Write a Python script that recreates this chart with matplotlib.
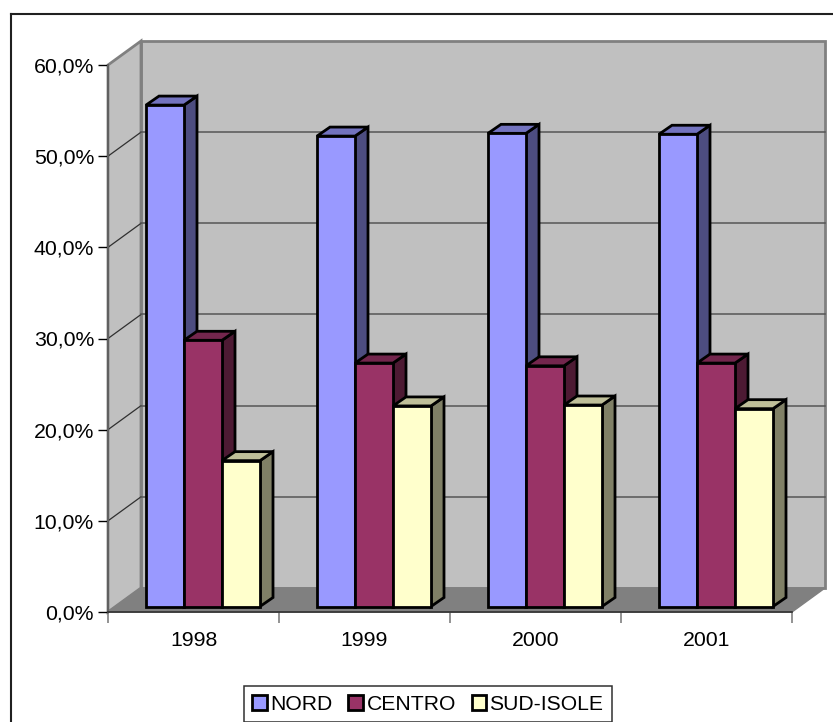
# -*- coding: utf-8 -*-
import matplotlib
matplotlib.use("Agg")
import matplotlib.pyplot as plt
from matplotlib.lines import Line2D
from matplotlib.patches import Polygon, Rectangle
from matplotlib.ticker import FuncFormatter

plt.rcParams['font.family'] = ['Liberation Sans', 'DejaVu Sans']

years = ["1998", "1999", "2000", "2001"]
nord = [55.0, 51.6, 51.9, 51.8]
centro = [29.2, 26.7, 26.4, 26.7]
sud_isole = [16.0, 22.0, 22.1, 21.7]
series_names = ["NORD", "CENTRO", "SUD-ISOLE"]
y_ticks = [0, 10, 20, 30, 40, 50, 60]

front_colors = ["#9999ff", "#993366", "#ffffcc"]
top_colors = ["#7373bf", "#73264d", "#bfbf99"]
side_colors = ["#4d4d80", "#4d1a33", "#808066"]

W, H = 833, 722
fig = plt.figure(figsize=(W / 100, H / 100), dpi=100)

# axes rectangle is the front edge of the 3D box, in pixels
left, right, bottom, top = 108, 792, 612, 65
ax = fig.add_axes([left / W, 1 - bottom / H, (right - left) / W, (bottom - top) / H])
ax.set_xlim(0, 4)
ax.set_ylim(0, 60)
ax.patch.set_visible(False)

xpx = (right - left) / 4
ypx = (bottom - top) / 60


def offset(dx_px, dy_px):
    # oblique depth given in pixels, returned in data units
    return dx_px / xpx, dy_px / ypx


# back wall, side wall and floor
wx, wy = offset(33, 24)
wall_edge = "#808080"
ax.add_patch(Polygon([(wx, wy), (4 + wx, wy), (4 + wx, 60 + wy), (wx, 60 + wy)],
                     fc="#c0c0c0", ec=wall_edge, lw=2, clip_on=False, zorder=1))
ax.add_patch(Polygon([(0, 0), (wx, wy), (wx, 60 + wy), (0, 60)],
                     fc="#c0c0c0", ec=wall_edge, lw=2, clip_on=False, zorder=1))
ax.add_patch(Polygon([(0, 0), (4, 0), (4 + wx, wy), (wx, wy)],
                     fc="#808080", ec=wall_edge, lw=1, clip_on=False, zorder=1))

# gridlines run along the side wall and then across the back wall
for v in y_ticks[1:-1]:
    ax.plot([0, wx], [v, v + wy], color="#303030", lw=0.9, clip_on=False, zorder=2)
    ax.plot([wx, 4 + wx], [v + wy, v + wy], color="#555555", lw=1.1, clip_on=False, zorder=2)

# 3D bars
bar_w = 38 / xpx
bar_x0 = 38 / xpx
base = (bottom - 606.5) / ypx
bx, by = offset(13, 9)
series = [nord, centro, sud_isole]

for i, year in enumerate(years):
    for j, vals in enumerate(series):
        x = i + bar_x0 + j * bar_w
        y = vals[i] + base
        z = 3 + j + i * 3
        ax.add_patch(Polygon([(x + bar_w, base), (x + bar_w + bx, base + by),
                              (x + bar_w + bx, y + by), (x + bar_w, y)],
                             fc=side_colors[j], ec="black", lw=2, joinstyle="miter",
                             clip_on=False, zorder=z))
        ax.add_patch(Polygon([(x, y), (x + bx, y + by), (x + bar_w + bx, y + by), (x + bar_w, y)],
                             fc=top_colors[j], ec="black", lw=2, joinstyle="miter",
                             clip_on=False, zorder=z))
        ax.bar(x, vals[i], bar_w, bottom=base, align="edge", color=front_colors[j],
               edgecolor="black", linewidth=2, clip_on=False, zorder=z + 0.5)

# axes
for name in ["top", "right"]:
    ax.spines[name].set_visible(False)
ax.spines["left"].set_color("#606060")
ax.spines["left"].set_linewidth(1.4)
ax.spines["left"].set_zorder(2)
ax.spines["bottom"].set_color("#303030")
ax.spines["bottom"].set_linewidth(1.2)
ax.spines["bottom"].set_zorder(2)

ax.set_yticks(y_ticks)
ax.yaxis.set_major_formatter(FuncFormatter(lambda v, p: f"{v:.1f}%".replace(".", ",")))
ax.tick_params(axis="y", length=7, width=1, color="black", labelsize=15.3, pad=3)

ax.set_xticks(range(5))
ax.set_xticklabels([])
ax.set_xticks([i + 0.5 for i in range(4)], minor=True)
ax.set_xticklabels(years, minor=True)
ax.tick_params(axis="x", which="major", length=8, width=1.2, color="#808080")
ax.tick_params(axis="x", which="minor", length=0, labelsize=15.3, pad=14)

# chart border only shows along the left and top edges
for xs, ys in [([11, 11], [722, 14]), ([11, 833], [14, 14])]:
    fig.add_artist(Line2D([p / W for p in xs], [1 - p / H for p in ys],
                          transform=fig.transFigure, color="#202020", lw=1.5))

# boxed legend strip under the chart
handles = [Rectangle((0, 0), 1, 1, fc=c, ec="black", lw=2) for c in front_colors]
leg = fig.legend(handles, series_names, loc="center", ncol=3,
                 bbox_to_anchor=(428 / W, 1 - 704 / H), fontsize=15.2,
                 frameon=True, fancybox=False, edgecolor="#303030", framealpha=1,
                 handlelength=0.7, handleheight=0.7, handletextpad=0.15,
                 columnspacing=0.75, borderpad=0.4, borderaxespad=0)
leg.get_frame().set_linewidth(1.1)

fig.savefig("out.png", dpi=100)
